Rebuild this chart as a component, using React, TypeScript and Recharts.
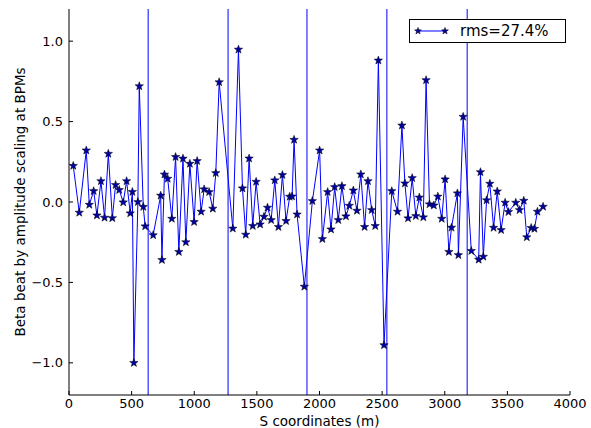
import React from "react";
import {
  ComposedChart,
  Line,
  XAxis,
  YAxis,
  ReferenceLine,
  Legend,
} from "recharts";

const sPos = [
  34, 82, 138, 162, 197, 223, 255, 284, 314, 346, 372, 401, 433, 460, 489, 506,
  518, 550, 561, 593, 608, 672, 732, 742, 762, 788, 821, 851, 877, 910, 933, 965,
  999, 1023, 1055, 1079, 1119, 1148, 1172, 1199, 1308, 1353, 1385, 1411, 1438,
  1467, 1494, 1526, 1557, 1585, 1614, 1643, 1672, 1704, 1733, 1762, 1781, 1797,
  1821, 1879, 1943, 2001, 2023, 2065, 2092, 2121, 2150, 2179, 2211, 2238, 2270,
  2299, 2330, 2360, 2387, 2417, 2445, 2470, 2515, 2577, 2623, 2658, 2682, 2707,
  2740, 2769, 2797, 2829, 2851, 2878, 2913, 2945, 2976, 3003, 3033, 3054, 3101,
  3109, 3147, 3212, 3271, 3285, 3308, 3334, 3360, 3390, 3419, 3450, 3482, 3509,
  3567, 3597, 3631, 3655, 3690, 3716, 3740, 3785,
];

const betaBeat = [
  0.225, -0.066, 0.321, -0.017, 0.068, -0.083, 0.13, -0.097, 0.3, -0.1, 0.106,
  0.075, -0.002, 0.13, -0.07, 0.063, -1.0, 0.0, 0.72, -0.03, -0.151, -0.206,
  0.04, -0.36, 0.171, 0.145, -0.104, 0.28, -0.31, 0.27, -0.25, 0.238, -0.124,
  0.255, -0.06, 0.079, 0.062, -0.041, 0.18, 0.745, -0.165, 0.948, 0.085, -0.203,
  0.271, -0.149, 0.126, -0.139, -0.091, -0.035, -0.112, 0.135, -0.155, 0.168,
  -0.118, 0.033, 0.035, 0.387, -0.077, -0.526, 0.006, 0.321, -0.23, 0.062,
  -0.17, 0.093, -0.112, 0.099, -0.089, -0.023, 0.072, -0.054, 0.172, -0.155,
  0.13, -0.05, -0.149, 0.88, -0.89, 0.068, -0.06, 0.476, 0.116, -0.101, 0.149,
  -0.087, 0.028, -0.095, 0.758, -0.014, -0.021, 0.034, -0.104, 0.141, -0.31,
  -0.159, 0.054, -0.33, 0.53, -0.304, -0.358, 0.186, -0.34, 0.011, 0.114, -0.16,
  0.066, -0.174, -0.004, -0.062, -0.004, -0.05, 0.008, -0.219, -0.161, -0.166,
  -0.06, -0.029,
];

const sectorBounds = [632, 1270, 1900, 2538, 3179];
const xTicks = [0, 500, 1000, 1500, 2000, 2500, 3000, 3500, 4000];
const yTicks = [-1.0, -0.5, 0.0, 0.5, 1.0];
const legendLabel = "rms=27.4%";
const xLabel = "S coordinates (m)";
const yLabel = "Beta beat by amplitude scaling at BPMs";

const data = sPos.map((s, i) => ({ s, beta: betaBeat[i] }));

const FONT = "DejaVu Sans";
const BLUE = "#0000ff";

function starPath(cx: number, cy: number, R: number, r: number) {
  let d = "";
  for (let k = 0; k < 10; k++) {
    const rad = k % 2 === 0 ? R : r;
    const a = -Math.PI / 2 + (k * Math.PI) / 5;
    const x = cx + rad * Math.cos(a);
    const y = cy + rad * Math.sin(a);
    d += (k === 0 ? "M" : "L") + x.toFixed(2) + "," + y.toFixed(2);
  }
  return d + "Z";
}

const renderStar = (p: any) => {
  if (p.cx == null || p.cy == null) return <g key={p.index} />;
  return (
    <path
      key={"st" + p.index}
      d={starPath(p.cx, p.cy, 4.4, 1.8)}
      fill="#0000a8"
      stroke="#000"
      strokeWidth={0.5}
    />
  );
};

const fmtY = (v: number) => {
  const s = Math.abs(v).toFixed(1);
  return v < 0 ? "\u2212" + s : s;
};

const LegendBox = () => (
  <div
    style={{
      boxSizing: "border-box",
      width: 157,
      height: 24,
      border: "1px solid #000",
      background: "#fff",
      display: "flex",
      alignItems: "center",
      fontFamily: FONT,
      fontSize: 15,
      color: "#000",
    }}
  >
    <svg width={50} height={22} style={{ display: "block" }}>
      <line x1={8} y1={11} x2={35} y2={11} stroke={BLUE} strokeWidth={1} />
      <path d={starPath(8, 11, 3.6, 1.5)} fill="#0000a8" stroke="#000" strokeWidth={0.5} />
      <path d={starPath(35, 11, 3.6, 1.5)} fill="#0000a8" stroke="#000" strokeWidth={0.5} />
    </svg>
    <span style={{ lineHeight: "22px" }}>{legendLabel}</span>
  </div>
);

export default function App() {
  const tickStyle = { fill: "#000", fontSize: 13, fontFamily: FONT };
  return (
    <div style={{ position: "absolute", left: 0, top: 0, background: "#fff" }}>
      <ComposedChart
        width={591}
        height={428}
        data={data}
        margin={{ top: 9, right: 21, left: 0, bottom: 0 }}
      >
        <XAxis
          xAxisId="bottom"
          dataKey="s"
          type="number"
          domain={[0, 4000]}
          ticks={xTicks}
          allowDataOverflow
          height={33}
          tickSize={-4}
          tickMargin={8}
          tick={tickStyle}
          axisLine={{ stroke: "#000" }}
          tickLine={{ stroke: "#000" }}
          label={{
            value: xLabel,
            position: "insideBottom",
            offset: 2,
            style: { fill: "#000", fontSize: 13.5, fontFamily: FONT },
          }}
        />
        <XAxis
          xAxisId="top"
          orientation="top"
          dataKey="s"
          type="number"
          domain={[0, 4000]}
          ticks={xTicks}
          allowDataOverflow
          height={0}
          tickSize={-4}
          tick={false}
          axisLine={{ stroke: "#000" }}
          tickLine={{ stroke: "#000" }}
        />
        <YAxis
          yAxisId="left"
          type="number"
          domain={[-1.2, 1.2]}
          ticks={yTicks}
          allowDataOverflow
          width={69}
          tickSize={-4}
          tickMargin={10}
          tick={tickStyle}
          tickFormatter={fmtY}
          axisLine={{ stroke: "#000" }}
          tickLine={{ stroke: "#000" }}
          label={{
            value: yLabel,
            angle: -90,
            position: "insideLeft",
            offset: 20,
            style: { fill: "#000", fontSize: 13.5, fontFamily: FONT, textAnchor: "middle" },
          }}
        />
        <YAxis
          yAxisId="right"
          orientation="right"
          type="number"
          domain={[-1.2, 1.2]}
          ticks={yTicks}
          allowDataOverflow
          width={0}
          tickSize={-4}
          tick={false}
          axisLine={{ stroke: "#000" }}
          tickLine={{ stroke: "#000" }}
        />
        {sectorBounds.map((b) => (
          <ReferenceLine
            key={"sb" + b}
            x={b}
            xAxisId="bottom"
            yAxisId="left"
            stroke={BLUE}
            strokeWidth={1}
            ifOverflow="hidden"
          />
        ))}
        <Line
          xAxisId="bottom"
          yAxisId="left"
          type="linear"
          dataKey="beta"
          stroke={BLUE}
          strokeWidth={1}
          dot={renderStar}
          activeDot={false}
          isAnimationActive={false}
        />
        <Legend
          layout="horizontal"
          verticalAlign="middle"
          align="center"
          content={() => <LegendBox />}
          wrapperStyle={{ left: 409, top: 19, width: 157, height: 24 }}
        />
      </ComposedChart>
    </div>
  );
}
